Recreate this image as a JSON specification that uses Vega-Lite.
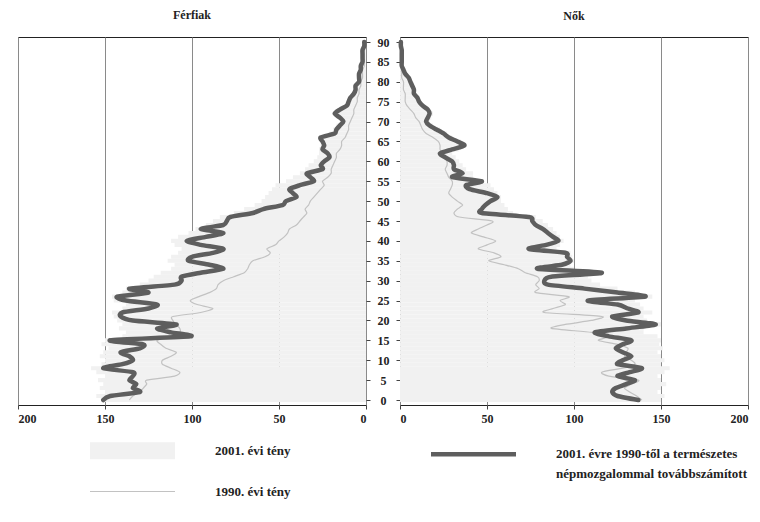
{
"$schema": "https://vega.github.io/schema/vega-lite/v6.json",
"background": "white",
"padding": {"left": 17, "top": 8, "right": 0, "bottom": 0},
"spacing": 34,
"bounds": "flush",
"data": {"values": [
{"age":0,"m2001":152,"m1990":136,"mproj":151,"f2001":150,"f1990":139,"fproj":137},
{"age":1,"m2001":155,"m1990":134,"mproj":147,"f2001":152,"f1990":136,"fproj":125},
{"age":2,"m2001":150,"m1990":130,"mproj":130,"f2001":148,"f1990":132,"fproj":122},
{"age":3,"m2001":153,"m1990":128,"mproj":134,"f2001":150,"f1990":129,"fproj":124},
{"age":4,"m2001":151,"m1990":126,"mproj":132,"f2001":153,"f1990":133,"fproj":130},
{"age":5,"m2001":154,"m1990":126,"mproj":136,"f2001":150,"f1990":137,"fproj":135},
{"age":6,"m2001":150,"m1990":110,"mproj":134,"f2001":148,"f1990":120,"fproj":125},
{"age":7,"m2001":155,"m1990":107,"mproj":134,"f2001":152,"f1990":116,"fproj":132},
{"age":8,"m2001":158,"m1990":112,"mproj":151,"f2001":155,"f1990":128,"fproj":139},
{"age":9,"m2001":152,"m1990":117,"mproj":140,"f2001":150,"f1990":135,"fproj":125},
{"age":10,"m2001":150,"m1990":117,"mproj":134,"f2001":152,"f1990":133,"fproj":128},
{"age":11,"m2001":153,"m1990":112,"mproj":136,"f2001":150,"f1990":129,"fproj":133},
{"age":12,"m2001":151,"m1990":109,"mproj":141,"f2001":148,"f1990":130,"fproj":128},
{"age":13,"m2001":148,"m1990":115,"mproj":130,"f2001":151,"f1990":131,"fproj":124},
{"age":14,"m2001":152,"m1990":118,"mproj":128,"f2001":149,"f1990":125,"fproj":128},
{"age":15,"m2001":150,"m1990":120,"mproj":147,"f2001":150,"f1990":114,"fproj":133},
{"age":16,"m2001":140,"m1990":112,"mproj":101,"f2001":148,"f1990":120,"fproj":120},
{"age":17,"m2001":138,"m1990":107,"mproj":112,"f2001":140,"f1990":110,"fproj":112},
{"age":18,"m2001":142,"m1990":107,"mproj":120,"f2001":140,"f1990":87,"fproj":130},
{"age":19,"m2001":140,"m1990":109,"mproj":109,"f2001":150,"f1990":95,"fproj":147},
{"age":20,"m2001":143,"m1990":111,"mproj":134,"f2001":142,"f1990":110,"fproj":130},
{"age":21,"m2001":145,"m1990":111,"mproj":141,"f2001":140,"f1990":116,"fproj":122},
{"age":22,"m2001":146,"m1990":95,"mproj":140,"f2001":145,"f1990":83,"fproj":137},
{"age":23,"m2001":140,"m1990":88,"mproj":125,"f2001":140,"f1990":88,"fproj":131},
{"age":24,"m2001":138,"m1990":97,"mproj":120,"f2001":138,"f1990":95,"fproj":125},
{"age":25,"m2001":145,"m1990":101,"mproj":138,"f2001":135,"f1990":92,"fproj":108},
{"age":26,"m2001":146,"m1990":96,"mproj":143,"f2001":145,"f1990":97,"fproj":141},
{"age":27,"m2001":140,"m1990":90,"mproj":125,"f2001":135,"f1990":78,"fproj":125},
{"age":28,"m2001":138,"m1990":86,"mproj":136,"f2001":125,"f1990":80,"fproj":106},
{"age":29,"m2001":130,"m1990":85,"mproj":110,"f2001":115,"f1990":78,"fproj":85},
{"age":30,"m2001":125,"m1990":82,"mproj":106,"f2001":110,"f1990":80,"fproj":83},
{"age":31,"m2001":122,"m1990":76,"mproj":106,"f2001":108,"f1990":79,"fproj":87},
{"age":32,"m2001":118,"m1990":70,"mproj":95,"f2001":112,"f1990":72,"fproj":116},
{"age":33,"m2001":112,"m1990":68,"mproj":82,"f2001":100,"f1990":68,"fproj":79},
{"age":34,"m2001":110,"m1990":67,"mproj":90,"f2001":98,"f1990":60,"fproj":93},
{"age":35,"m2001":114,"m1990":65,"mproj":102,"f2001":100,"f1990":51,"fproj":98},
{"age":36,"m2001":112,"m1990":58,"mproj":100,"f2001":99,"f1990":58,"fproj":96},
{"age":37,"m2001":108,"m1990":55,"mproj":88,"f2001":98,"f1990":54,"fproj":95},
{"age":38,"m2001":106,"m1990":57,"mproj":82,"f2001":90,"f1990":45,"fproj":74},
{"age":39,"m2001":110,"m1990":52,"mproj":95,"f2001":92,"f1990":50,"fproj":84},
{"age":40,"m2001":112,"m1990":50,"mproj":103,"f2001":94,"f1990":55,"fproj":91},
{"age":41,"m2001":108,"m1990":47,"mproj":92,"f2001":92,"f1990":48,"fproj":88},
{"age":42,"m2001":102,"m1990":45,"mproj":82,"f2001":90,"f1990":41,"fproj":85},
{"age":43,"m2001":98,"m1990":44,"mproj":95,"f2001":88,"f1990":45,"fproj":82},
{"age":44,"m2001":92,"m1990":40,"mproj":82,"f2001":85,"f1990":50,"fproj":78},
{"age":45,"m2001":88,"m1990":38,"mproj":80,"f2001":82,"f1990":53,"fproj":76},
{"age":46,"m2001":84,"m1990":36,"mproj":78,"f2001":78,"f1990":34,"fproj":74},
{"age":47,"m2001":76,"m1990":34,"mproj":65,"f2001":65,"f1990":31,"fproj":47},
{"age":48,"m2001":70,"m1990":35,"mproj":59,"f2001":62,"f1990":33,"fproj":47},
{"age":49,"m2001":64,"m1990":33,"mproj":48,"f2001":60,"f1990":36,"fproj":49},
{"age":50,"m2001":60,"m1990":32,"mproj":46,"f2001":58,"f1990":33,"fproj":52},
{"age":51,"m2001":58,"m1990":30,"mproj":40,"f2001":58,"f1990":30,"fproj":56},
{"age":52,"m2001":56,"m1990":28,"mproj":42,"f2001":56,"f1990":28,"fproj":50},
{"age":53,"m2001":54,"m1990":26,"mproj":44,"f2001":54,"f1990":29,"fproj":40},
{"age":54,"m2001":52,"m1990":24,"mproj":38,"f2001":52,"f1990":30,"fproj":38},
{"age":55,"m2001":46,"m1990":25,"mproj":30,"f2001":48,"f1990":30,"fproj":47},
{"age":56,"m2001":42,"m1990":22,"mproj":32,"f2001":42,"f1990":28,"fproj":30},
{"age":57,"m2001":38,"m1990":20,"mproj":34,"f2001":42,"f1990":27,"fproj":36},
{"age":58,"m2001":35,"m1990":20,"mproj":25,"f2001":38,"f1990":26,"fproj":31},
{"age":59,"m2001":33,"m1990":19,"mproj":26,"f2001":36,"f1990":27,"fproj":31},
{"age":60,"m2001":30,"m1990":18,"mproj":24,"f2001":34,"f1990":27,"fproj":30},
{"age":61,"m2001":28,"m1990":17,"mproj":21,"f2001":32,"f1990":26,"fproj":26},
{"age":62,"m2001":27,"m1990":17,"mproj":22,"f2001":30,"f1990":24,"fproj":23},
{"age":63,"m2001":27,"m1990":15,"mproj":25,"f2001":34,"f1990":23,"fproj":30},
{"age":64,"m2001":26,"m1990":14,"mproj":24,"f2001":38,"f1990":23,"fproj":37},
{"age":65,"m2001":26,"m1990":14,"mproj":25,"f2001":35,"f1990":22,"fproj":33},
{"age":66,"m2001":25,"m1990":12,"mproj":26,"f2001":30,"f1990":19,"fproj":28},
{"age":67,"m2001":21,"m1990":11,"mproj":18,"f2001":27,"f1990":15,"fproj":25},
{"age":68,"m2001":19,"m1990":10,"mproj":17,"f2001":23,"f1990":13,"fproj":21},
{"age":69,"m2001":17,"m1990":10,"mproj":15,"f2001":19,"f1990":12,"fproj":17},
{"age":70,"m2001":15,"m1990":9,"mproj":13,"f2001":17,"f1990":11,"fproj":15},
{"age":71,"m2001":16,"m1990":8,"mproj":15,"f2001":18,"f1990":9,"fproj":16},
{"age":72,"m2001":17,"m1990":7,"mproj":18,"f2001":19,"f1990":8,"fproj":17},
{"age":73,"m2001":15,"m1990":7,"mproj":15,"f2001":17,"f1990":6,"fproj":16},
{"age":74,"m2001":12,"m1990":6,"mproj":11,"f2001":14,"f1990":4,"fproj":13},
{"age":75,"m2001":11,"m1990":5,"mproj":10,"f2001":12,"f1990":3,"fproj":11},
{"age":76,"m2001":10,"m1990":5,"mproj":9,"f2001":11,"f1990":3,"fproj":10},
{"age":77,"m2001":8,"m1990":4,"mproj":7,"f2001":9,"f1990":3,"fproj":8},
{"age":78,"m2001":7,"m1990":4,"mproj":6,"f2001":9,"f1990":2,"fproj":8},
{"age":79,"m2001":6,"m1990":3,"mproj":6,"f2001":8,"f1990":2,"fproj":7},
{"age":80,"m2001":5,"m1990":3,"mproj":4,"f2001":7,"f1990":2,"fproj":6},
{"age":81,"m2001":4,"m1990":2,"mproj":4,"f2001":5,"f1990":1,"fproj":5},
{"age":82,"m2001":4,"m1990":2,"mproj":4,"f2001":4,"f1990":1,"fproj":3},
{"age":83,"m2001":3,"m1990":2,"mproj":3,"f2001":3,"f1990":1,"fproj":2},
{"age":84,"m2001":3,"m1990":1,"mproj":3,"f2001":2,"f1990":1,"fproj":1},
{"age":85,"m2001":2,"m1990":1,"mproj":2,"f2001":2,"f1990":0.5,"fproj":1},
{"age":86,"m2001":2,"m1990":1,"mproj":2,"f2001":1.5,"f1990":0.5,"fproj":1},
{"age":87,"m2001":2,"m1990":1,"mproj":2,"f2001":1,"f1990":0.5,"fproj":1},
{"age":88,"m2001":1,"m1990":1,"mproj":2,"f2001":1,"f1990":0.3,"fproj":1},
{"age":89,"m2001":1,"m1990":0.5,"mproj":1,"f2001":1,"f1990":0.3,"fproj":0.5},
{"age":90,"m2001":1,"m1990":0.5,"mproj":1,"f2001":0.5,"f1990":0.2,"fproj":0.5}
]},
"hconcat": [
{
 "width": 348, "height": 368,
 "title": {"text": "Férfiak"},
 "encoding": {
  "y": {"field": "age", "type": "quantitative", "scale": {"domain": [0, 90], "nice": false},
        "axis": {"orient": "right", "values": [0,5,10,15,20,25,30,35,40,45,50,55,60,65,70,75,80,85,90], "labelAlign": "center", "labelPadding": 13, "tickSize": 4, "grid": false, "title": null}}
 },
 "layer": [
  {"mark": {"type": "bar", "orient": "horizontal", "size": 4.1},
   "encoding": {
    "x": {"field": "m2001", "type": "quantitative", "scale": {"domain": [0, 200], "reverse": true, "nice": false},
          "axis": {"values": [0,50,100,150,200], "grid": true, "tickSize": 4, "labelPadding": 4, "title": null}},
    "color": {"datum": "2001. évi tény", "type": "nominal",
      "scale": {"domain": ["2001. évi tény", "1990. évi tény", "2001. évre 1990-től a természetes|népmozgalommal továbbszámított"], "range": ["#f1f1f1", "#c2c2c2", "#5e5e5e"]},
      "legend": {"orient": "none", "legendX": 108, "legendY": 407, "columns": 2, "title": null,
        "symbolType": "stroke", "symbolSize": 7225, "symbolOpacity": 1, "labelOffset": 76, "columnPadding": 131, "rowPadding": 0,
        "labelFont": "Liberation Serif", "labelFontWeight": "bold", "labelFontSize": 13, "labelColor": "#222", "labelLimit": 400,
        "labelBaseline": "middle",
        "labelExpr": "split(datum.label, '|')",
        "encode": {
          "symbols": {"update": {"stroke": {"scale": "color", "field": "value"}, "fill": {"value": "transparent"},
             "strokeWidth": {"signal": "datum.value === '1990. évi tény' ? 1.2 : (datum.value === '2001. évi tény' ? 17 : 4.5)"}}},
          "labels": {"update": {"lineHeight": {"value": 20}}}
        }}}
   }},
  {"mark": {"type": "line", "strokeWidth": 1.2, "interpolate": "cardinal", "tension": 0.3},
   "encoding": {
    "x": {"field": "m1990", "type": "quantitative", "scale": {"domain": [0, 200], "reverse": true, "nice": false},
          "axis": {"values": [0,50,100,150,200], "grid": true, "tickSize": 4, "labelPadding": 4, "title": null}},
    "order": {"field": "age", "type": "quantitative"},
    "color": {"datum": "1990. évi tény", "type": "nominal"}
   }},
  {"mark": {"type": "line", "strokeWidth": 4.5, "strokeJoin": "round", "strokeCap": "round", "interpolate": "cardinal", "tension": 0.3},
   "encoding": {
    "x": {"field": "mproj", "type": "quantitative", "scale": {"domain": [0, 200], "reverse": true, "nice": false},
          "axis": {"values": [0,50,100,150,200], "grid": true, "tickSize": 4, "labelPadding": 4, "title": null}},
    "order": {"field": "age", "type": "quantitative"},
    "color": {"datum": "2001. évre 1990-től a természetes|népmozgalommal továbbszámított", "type": "nominal"}
   }}
 ]
},
{
 "width": 348, "height": 368,
 "title": {"text": "Nők"},
 "encoding": {
  "y": {"field": "age", "type": "quantitative", "scale": {"domain": [0, 90], "nice": false},
        "axis": {"orient": "left", "values": [0,5,10,15,20,25,30,35,40,45,50,55,60,65,70,75,80,85,90], "labels": false, "tickSize": 4, "grid": false, "title": null}}
 },
 "layer": [
  {"mark": {"type": "bar", "orient": "horizontal", "size": 4.1},
   "encoding": {
    "x": {"field": "f2001", "type": "quantitative", "scale": {"domain": [0, 200], "nice": false},
          "axis": {"values": [0,50,100,150,200], "grid": true, "tickSize": 4, "labelPadding": 4, "title": null}},
    "color": {"datum": "2001. évi tény", "type": "nominal"}
   }},
  {"mark": {"type": "line", "strokeWidth": 1.2, "interpolate": "cardinal", "tension": 0.3},
   "encoding": {
    "x": {"field": "f1990", "type": "quantitative", "scale": {"domain": [0, 200], "nice": false},
          "axis": {"values": [0,50,100,150,200], "grid": true, "tickSize": 4, "labelPadding": 4, "title": null}},
    "order": {"field": "age", "type": "quantitative"},
    "color": {"datum": "1990. évi tény", "type": "nominal"}
   }},
  {"mark": {"type": "line", "strokeWidth": 4.5, "strokeJoin": "round", "strokeCap": "round", "interpolate": "cardinal", "tension": 0.3},
   "encoding": {
    "x": {"field": "fproj", "type": "quantitative", "scale": {"domain": [0, 200], "nice": false},
          "axis": {"values": [0,50,100,150,200], "grid": true, "tickSize": 4, "labelPadding": 4, "title": null}},
    "order": {"field": "age", "type": "quantitative"},
    "color": {"datum": "2001. évre 1990-től a természetes|népmozgalommal továbbszámított", "type": "nominal"}
   }}
 ]
}
],
"config": {
 "font": "Liberation Serif",
 "view": {"stroke": "#222", "strokeWidth": 1},
 "axis": {"labelFont": "Liberation Serif", "labelFontWeight": "bold", "labelFontSize": 12, "labelColor": "#222", "tickColor": "#444", "gridColor": "#8a8a8a", "gridWidth": 1, "domain": false},
 "title": {"font": "Liberation Serif", "fontSize": 12, "fontWeight": "bold", "color": "#222", "offset": 14}
}
}
